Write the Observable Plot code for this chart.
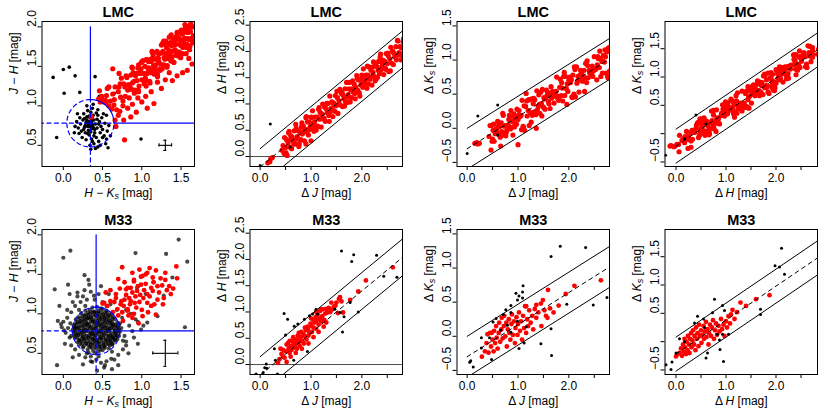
<!DOCTYPE html>
<html><head><meta charset="utf-8">
<script src="https://cdn.jsdelivr.net/npm/d3@7"></script>
<script src="https://cdn.jsdelivr.net/npm/@observablehq/plot@0.6"></script>
<style>
body{margin:0;background:#fff}
#chart{position:relative;width:830px;height:415px;background:#fff}
#chart svg{position:absolute}
</style>
</head><body><div id="chart"></div>
<script>
// ---------------- DATA ----------------
const titles = ["LMC", "M33"];

// LMC colour–colour diagram (H-Ks, J-H)
const lmcCcdRed = [
[0.45,1.09],[0.47,1.05],[0.49,1.12],[0.50,1.07],[0.52,1.05],[0.54,1.04],[0.55,1.13],[0.58,1.00],[0.58,1.24],[0.60,1.06],
[0.62,0.96],[0.63,1.15],[0.65,1.08],[0.66,1.24],[0.68,0.95],[0.70,1.18],[0.71,1.24],[0.73,1.11],[0.74,1.35],[0.76,1.06],
[0.77,1.28],[0.79,1.12],[0.80,1.38],[0.82,1.20],[0.83,1.27],[0.84,1.10],[0.86,1.39],[0.87,1.21],[0.88,1.48],[0.90,1.31],
[0.91,1.20],[0.92,1.38],[0.94,1.32],[0.95,1.48],[0.96,1.18],[0.98,1.41],[0.99,1.47],[1.00,1.33],[1.01,1.57],[1.03,1.28],
[1.04,1.50],[1.05,1.33],[1.06,1.59],[1.07,1.41],[1.09,1.48],[1.10,1.31],[1.11,1.59],[1.12,1.42],[1.13,1.69],[1.15,1.51],
[1.16,1.40],[1.17,1.59],[1.18,1.52],[1.19,1.68],[1.20,1.37],[1.21,1.60],[1.22,1.66],[1.24,1.53],[1.25,1.77],[1.26,1.47],
[1.27,1.69],[1.28,1.52],[1.29,1.78],[1.30,1.60],[1.31,1.66],[1.32,1.49],[1.33,1.77],[1.34,1.60],[1.35,1.87],[1.36,1.69],
[1.37,1.57],[1.38,1.76],[1.39,1.69],[1.40,1.85],[1.41,1.55],[1.42,1.77],[1.43,1.83],[1.44,1.69],[1.45,1.93],[1.46,1.64],
[1.47,1.86],[1.48,1.68],[1.49,1.94],[1.50,1.76],[1.51,1.83],[1.52,1.66],[1.53,1.94],[1.54,1.76],[1.55,2.03],[1.56,1.85],
[1.57,1.74],[1.58,1.93],[1.59,1.85],[1.60,2.01],[1.61,1.71],[1.62,1.94],[1.63,2.00],[1.64,1.86],[1.65,2.09],[1.66,1.80],
[0.85,1.24],[0.89,1.42],[0.93,1.19],[0.97,1.42],[1.02,1.57],[1.045,1.35],[1.08,1.47],[1.105,1.29],[1.14,1.61],[1.165,1.48],
[1.195,1.69],[1.23,1.47],[1.255,1.67],[1.285,1.61],[1.305,1.82],[1.325,1.51],[1.345,1.70],[1.365,1.80],[1.385,1.62],[1.405,1.78],
[1.425,1.71],[1.445,1.87],[1.465,1.63],[1.485,1.84],[1.505,1.96],[1.525,1.74],[1.545,1.85],[1.565,1.66],[1.585,1.97],[1.605,1.84],
[1.625,2.04],[1.645,1.81],[1.655,2.00],[1.215,1.56],[1.135,1.68],[0.955,1.20],[0.785,1.24],[0.725,1.28],[0.645,1.01],[0.535,1.07],
[0.81,1.36],[0.845,1.21],[0.875,1.49],[0.905,1.16],[0.935,1.41],[0.965,1.25],[0.995,1.55],[1.025,1.41],[1.055,1.25],[1.085,1.56],
[1.115,1.46],[1.145,1.65],[1.175,1.45],[1.205,1.61],[1.235,1.45],[1.265,1.79],[1.295,1.59],[1.315,1.74],[1.335,1.79],[1.355,1.63],
[1.375,1.90],[1.395,1.56],[1.415,1.80],[1.435,1.64],[1.455,1.92],[1.475,1.78],[1.495,1.61],[1.515,1.91],[1.535,1.81],[1.555,1.99],
[1.575,1.78],[1.595,1.93],[1.615,1.76],[1.635,2.09],[1.66,1.89],[1.52,1.91],[1.44,1.88],[1.36,1.64],[1.28,1.82],[1.20,1.40],
[1.12,1.56],[1.04,1.31],[0.96,1.52],[0.88,1.29],
[0.77,0.82],[0.86,0.86],[1.07,0.97],[1.155,1.03],[1.39,1.32],[1.64,1.53],[1.58,1.45],[0.78,0.57],[0.67,0.74],[0.72,0.93],
[0.82,0.97],[0.93,0.92],[1.00,1.05],[0.95,1.10],[1.12,1.18],[1.25,1.22],[1.30,1.33],[1.45,1.38],[1.52,1.42],[0.88,1.02],
[0.70,0.88],[0.66,0.82],[0.76,1.00],[1.05,1.12],[1.20,1.30],[1.35,1.42],[1.60,1.60],[0.63,1.47],[0.71,1.41],[0.46,1.19],
[0.56,1.22],[0.36,0.86]
];
const lmcCcdBlack = [
[0.35,0.78],[0.33,0.80],[0.37,0.76],[0.31,0.74],[0.39,0.82],[0.34,0.85],[0.36,0.71],[0.29,0.79],[0.41,0.77],[0.32,0.69],
[0.38,0.88],[0.30,0.86],[0.43,0.72],[0.27,0.73],[0.35,0.92],[0.40,0.66],[0.33,0.63],[0.46,0.80],[0.25,0.82],[0.37,0.97],
[0.44,0.88],[0.28,0.66],[0.42,0.60],[0.31,0.94],[0.48,0.74],[0.22,0.77],[0.36,0.58],[0.47,0.66],[0.26,0.90],[0.39,0.52],
[0.50,0.70],[0.45,0.55],[0.52,0.62],[0.34,0.50],[0.41,0.46],[0.29,0.57],[0.23,0.68],[0.49,0.85],[0.21,0.85],[0.38,1.02],
[0.30,1.00],[0.44,0.95],[0.53,0.78],[0.55,0.58],[0.47,0.50],[0.24,0.60],[0.19,0.72],[0.36,0.84],[0.34,0.74],[0.32,0.77],
[0.38,0.73],[0.36,0.80],[0.30,0.82],[0.40,0.70],[0.33,0.87],[0.39,0.62],[0.27,0.84],[0.43,0.83],[0.35,0.67],[0.31,0.65],
[0.45,0.77],[0.28,0.75],[0.37,0.55],[0.42,0.91],[0.26,0.70],[0.50,0.60],[0.54,0.52],[0.20,0.65],[0.35,0.45],[0.44,0.48],
[0.57,0.47],[0.51,0.90],[0.17,0.80],[0.15,0.74],[0.56,0.68],[0.58,0.75],[0.18,0.90],[0.55,0.88],[0.60,0.62],[0.14,0.66],
[-0.13,1.36],[0.00,1.46],[0.075,1.49],[0.15,1.38],[0.01,1.16],[0.21,1.17],[0.405,1.37],[0.65,1.16],[-0.085,0.60],[0.99,0.58],[0.46,1.12]
];

// M33 colour–colour diagram
const m33CcdRed = [
[0.75,1.59],[1.44,1.60],[0.70,1.44],[0.54,1.27],[0.52,1.14],[0.67,1.20],[0.82,1.33],[0.90,1.43],[0.99,1.47],[1.05,1.50],
[1.14,1.46],[1.20,1.35],[1.26,1.36],[1.16,1.12],[1.18,0.99],[1.01,0.97],[0.88,0.95],[0.76,0.91],[0.82,1.06],[1.07,1.14],
[0.63,1.02],[0.56,1.10],[1.01,1.48],[1.07,1.52],[0.67,1.25],[0.60,1.16],[0.50,1.13],[0.73,1.12],[0.84,1.20],[0.94,1.29],
[0.86,1.33],[0.80,1.31],[0.99,1.37],[0.90,1.41],[0.82,1.04],[0.96,0.88],[0.90,1.00],[0.75,1.02],[0.69,1.06],[1.07,1.25],
[0.78,1.18],[0.85,1.12],[0.92,1.22],[0.97,1.15],[1.02,1.20],[0.88,1.27],[0.95,1.35],[1.03,1.30],[1.10,1.22],[1.12,1.33],
[0.80,1.24],[0.74,1.16],[0.93,1.08],[1.00,1.05],[1.08,1.02],[0.86,1.16],[0.91,1.14],[0.98,1.24],[1.05,1.38],[1.15,1.40],
[1.22,1.27],[1.28,1.20],[1.32,1.30],[1.37,1.25],[1.30,1.43],[1.35,1.35],[1.24,1.45],[1.18,1.55],[1.10,1.58],[0.97,1.56],
[0.88,1.52],[0.78,1.40],[0.72,1.32],[0.65,1.15],[0.60,1.30],[0.77,1.10],[0.83,0.98],[0.70,0.98],[1.12,1.10],[1.20,1.18],
[1.27,1.12],[1.40,1.32],[1.45,1.45],[1.30,1.52],[1.14,1.29]
];
const m33CcdGrey = [
[0.32,0.51],[0.38,0.53],[0.45,0.52],[0.50,0.54],[0.41,0.50],
[0.25,0.57],[0.31,0.55],[0.36,0.57],[0.42,0.56],[0.47,0.55],[0.53,0.57],[0.58,0.56],
[0.21,0.61],[0.26,0.59],[0.32,0.60],[0.37,0.62],[0.43,0.60],[0.48,0.59],[0.54,0.61],[0.59,0.60],[0.63,0.62],
[0.18,0.64],[0.23,0.65],[0.29,0.63],[0.34,0.64],[0.40,0.66],[0.45,0.64],[0.51,0.63],[0.56,0.65],[0.61,0.64],[0.66,0.66],
[0.15,0.69],[0.21,0.67],[0.26,0.68],[0.32,0.70],[0.37,0.68],[0.43,0.67],[0.48,0.69],[0.54,0.68],[0.59,0.67],[0.64,0.69],[0.69,0.68],
[0.14,0.72],[0.19,0.73],[0.25,0.71],[0.30,0.72],[0.36,0.74],[0.41,0.72],[0.47,0.71],[0.52,0.73],[0.58,0.72],[0.63,0.71],[0.68,0.73],[0.71,0.72],
[0.13,0.77],[0.18,0.75],[0.24,0.76],[0.29,0.78],[0.35,0.76],[0.40,0.75],[0.46,0.77],[0.51,0.76],[0.57,0.78],[0.62,0.75],[0.67,0.76],[0.72,0.77],
[0.12,0.80],[0.17,0.81],[0.23,0.79],[0.28,0.80],[0.34,0.82],[0.39,0.80],[0.45,0.79],[0.50,0.81],[0.56,0.80],[0.61,0.82],[0.66,0.79],[0.71,0.80],
[0.13,0.85],[0.19,0.83],[0.24,0.84],[0.30,0.86],[0.35,0.84],[0.41,0.83],[0.46,0.85],[0.52,0.84],[0.57,0.83],[0.63,0.85],[0.68,0.84],[0.71,0.86],
[0.15,0.88],[0.20,0.89],[0.26,0.87],[0.31,0.88],[0.37,0.90],[0.42,0.88],[0.48,0.87],[0.53,0.89],[0.59,0.88],[0.64,0.87],[0.69,0.89],
[0.16,0.93],[0.22,0.91],[0.27,0.92],[0.33,0.94],[0.38,0.92],[0.44,0.91],[0.49,0.93],[0.55,0.92],[0.60,0.91],[0.66,0.93],
[0.19,0.96],[0.24,0.97],[0.30,0.95],[0.35,0.96],[0.41,0.98],[0.46,0.96],[0.52,0.95],[0.57,0.97],[0.63,0.96],
[0.23,1.01],[0.29,0.99],[0.34,1.00],[0.40,1.02],[0.45,1.00],[0.51,0.99],[0.56,1.01],[0.61,1.00],
[0.28,1.04],[0.34,1.05],[0.39,1.03],[0.45,1.04],[0.50,1.06],[0.55,1.04],
[0.37,1.08],[0.43,1.09],[0.48,1.07],
[0.34,0.58],[0.40,0.58],[0.46,0.58],[0.52,0.58],
[0.24,0.62],[0.29,0.62],[0.35,0.61],[0.40,0.62],[0.46,0.62],[0.51,0.61],[0.57,0.62],[0.62,0.61],
[0.20,0.66],[0.27,0.66],[0.32,0.66],[0.38,0.67],[0.43,0.65],[0.49,0.66],[0.54,0.66],[0.60,0.66],[0.65,0.67],
[0.18,0.70],[0.24,0.70],[0.29,0.69],[0.35,0.70],[0.40,0.70],[0.46,0.69],[0.51,0.70],[0.57,0.70],[0.62,0.70],[0.67,0.70],
[0.16,0.74],[0.22,0.74],[0.27,0.74],[0.33,0.73],[0.38,0.74],[0.44,0.74],[0.49,0.74],[0.55,0.74],[0.60,0.73],[0.66,0.74],
[0.15,0.78],[0.21,0.78],[0.26,0.78],[0.32,0.78],[0.37,0.78],[0.43,0.77],[0.48,0.78],[0.54,0.78],[0.59,0.78],[0.65,0.78],[0.70,0.78],
[0.15,0.82],[0.20,0.82],[0.26,0.82],[0.31,0.82],[0.37,0.81],[0.42,0.82],[0.48,0.82],[0.53,0.82],[0.59,0.81],[0.64,0.82],[0.69,0.82],
[0.17,0.86],[0.22,0.86],[0.28,0.86],[0.33,0.86],[0.39,0.86],[0.44,0.86],[0.50,0.86],[0.55,0.86],[0.61,0.86],[0.66,0.86],
[0.18,0.90],[0.24,0.90],[0.29,0.90],[0.35,0.90],[0.40,0.90],[0.46,0.90],[0.51,0.90],[0.57,0.90],[0.62,0.90],
[0.21,0.94],[0.26,0.94],[0.31,0.94],[0.36,0.94],[0.42,0.94],[0.47,0.94],[0.53,0.94],[0.58,0.94],[0.63,0.94],
[0.27,0.98],[0.32,0.98],[0.38,0.98],[0.43,0.98],[0.49,0.98],[0.54,0.98],[0.59,0.98],
[0.32,1.02],[0.37,1.02],[0.43,1.02],[0.48,1.02],[0.53,1.02],
[0.09,1.80],[0.00,1.71],[0.92,1.77],[1.47,1.94],[1.58,1.66],[1.31,1.76],[1.39,1.46],[1.28,1.23],[1.55,0.83],[-0.11,1.31],
[-0.05,1.10],[0.06,1.37],[0.27,1.49],[0.32,1.43],[0.18,1.27],[0.08,1.25],[-0.08,0.35],[0.25,0.36],[0.37,0.39],[0.43,0.28],
[0.52,0.32],[0.61,0.43],[0.80,0.60],[0.92,0.93],[0.99,0.80],[1.07,0.89],[1.20,0.97],[0.94,1.33],[1.05,1.25],[0.48,1.35],
[0.39,1.23],[0.33,1.37],[0.14,0.83],[-0.03,0.87],[0.01,0.79],[-0.07,0.91],
[0.05,0.95],[0.08,0.70],[0.02,0.62],[0.10,1.02],[0.15,1.10],[0.22,1.15],[0.30,1.18],[0.25,1.22],[0.20,1.05],[0.60,1.12],
[0.68,1.05],[0.75,0.95],[0.78,0.72],[0.80,0.65],[0.76,0.55],[0.70,0.48],[0.65,0.42],[0.55,0.40],[0.48,0.38],[0.42,0.42],
[0.35,0.40],[0.28,0.45],[0.20,0.48],[0.15,0.55],[0.10,0.60],[0.06,0.82],[0.03,0.76],[0.84,0.85],[0.88,0.78],[0.72,0.88],
[0.62,0.30],[0.53,0.35],[0.12,0.45],[0.00,0.90],[-0.02,0.83],[0.90,0.70],[0.95,0.62],[0.83,0.50],[0.50,1.15],[0.40,1.18],
[0.45,1.25],[0.35,1.28],[0.27,1.30],[0.18,1.22],[0.58,1.25],[0.12,1.15],[0.05,1.05],[0.95,0.90],[1.02,0.85],[0.86,1.00],
[0.80,1.05],[0.70,0.35],[0.10,0.72],[0.09,0.88],[0.74,0.82],[0.76,0.66],[0.35,0.46],[0.45,0.46],[0.28,1.10],[0.55,1.10],
[0.30,0.50],[0.62,0.52]
];

// LMC variability amplitudes of the selected stars (ΔJ, ΔH, ΔKs)
const lmcDJ = [
0.45,0.47,0.48,0.50,0.52,0.53,0.55,0.57,0.58,0.60,0.62,0.63,0.65,0.67,0.68,0.70,0.72,0.73,0.75,0.77,
0.78,0.80,0.82,0.83,0.85,0.87,0.88,0.90,0.92,0.93,0.95,0.97,0.98,1.00,1.02,1.03,1.05,1.07,1.08,1.10,
1.12,1.13,1.15,1.17,1.18,1.20,1.22,1.23,1.25,1.27,1.28,1.30,1.32,1.33,1.35,1.37,1.38,1.40,1.42,1.43,
1.45,1.47,1.48,1.50,1.52,1.53,1.55,1.57,1.58,1.60,1.62,1.63,1.65,1.67,1.68,1.70,1.72,1.73,1.75,1.77,
1.78,1.80,1.82,1.83,1.85,1.87,1.88,1.90,1.92,1.93,1.95,1.97,1.98,2.00,2.02,2.03,2.05,2.07,2.08,2.10,
2.12,2.13,2.15,2.17,2.18,2.20,2.22,2.23,2.25,2.27,2.28,2.30,2.32,2.33,2.35,2.37,2.38,2.40,2.42,2.43,
2.45,2.47,2.48,2.50,2.52,2.53,2.55,2.57,2.58,2.60,2.62,2.63,2.65,2.67,2.68,2.70,2.72,2.73,2.75,2.77,
2.78,2.80,2.82,2.84,2.86,2.88,2.90,2.92,2.94,2.96,2.98,3.00,3.02,3.04,3.06,3.08,3.10,3.12,3.14,3.16,
3.18,3.20,3.22,3.24,3.26,3.28,3.30,3.32,3.34,3.36,3.38,3.40,3.42,3.44,3.46,3.48,3.50,3.52,3.55,3.58,
3.61,3.64,3.67,3.70,0.19,0.21,0.43,0.49,0.15,0.24,0.90,1.00,
0.51,0.56,0.61,0.66,0.71,0.76,0.81,0.86,0.91,0.96,1.01,1.06,1.11,1.16,1.21,1.26,1.31,1.36,1.41,1.46,
1.51,1.56,1.61,1.66,1.71,1.76,1.81,1.86,1.91,1.96,2.01,2.06,2.11,2.16,2.21,2.26,2.31,2.36,2.41,2.46,
2.51,2.56,2.61,2.66,2.71,2.76,2.81,2.86,2.91,2.96,3.01,3.06,3.11,3.16,3.21,3.26,3.31,3.36,3.41,3.46,
3.51,3.56,3.61,3.66
];
const lmcDH = [
0.21,0.06,0.36,0.17,0.32,0.02,0.26,0.48,0.18,0.40,0.15,0.37,0.30,0.49,0.24,0.61,0.33,0.38,0.49,0.24,
0.47,0.32,0.64,0.43,0.58,0.30,0.52,0.74,0.46,0.66,0.41,0.65,0.56,0.75,0.52,0.87,0.59,0.66,0.75,0.50,
0.75,0.58,0.90,0.71,0.84,0.56,0.80,1.00,0.72,0.94,0.67,0.91,0.84,1.01,0.78,1.15,0.85,0.92,1.03,0.76,
1.01,0.86,1.16,0.97,1.12,0.82,1.06,1.28,0.98,1.20,0.95,1.17,1.10,1.29,1.04,1.41,1.13,1.18,1.29,1.04,
1.27,1.12,1.44,1.23,1.38,1.10,1.32,1.54,1.26,1.46,1.21,1.45,1.36,1.55,1.32,1.67,1.39,1.46,1.55,1.30,
1.55,1.38,1.70,1.51,1.64,1.36,1.60,1.80,1.52,1.74,1.47,1.71,1.64,1.81,1.58,1.95,1.65,1.72,1.83,1.56,
1.81,1.66,1.96,1.77,1.92,1.62,1.86,2.08,1.78,2.00,1.75,1.97,1.90,2.09,1.84,2.21,1.93,1.98,2.09,1.84,
2.07,1.92,2.24,2.04,2.19,1.90,2.14,2.36,2.07,2.29,2.03,2.27,2.20,2.38,2.15,2.51,2.23,2.30,2.40,2.15,
2.39,2.24,2.56,2.36,2.51,2.22,2.46,2.68,2.39,2.61,2.35,2.59,2.52,2.70,2.47,2.83,2.55,2.62,2.73,2.48,
2.74,2.59,2.92,2.73,-0.10,-0.04,0.12,0.05,-0.12,-0.02,0.24,0.30,
0.07,0.45,0.33,0.24,0.53,0.19,0.56,0.48,0.76,0.51,0.74,0.48,0.55,0.93,0.81,0.72,1.01,0.67,1.04,0.96,
1.24,0.99,1.22,0.96,1.03,1.41,1.29,1.20,1.49,1.15,1.52,1.44,1.72,1.47,1.70,1.44,1.51,1.89,1.77,1.68,
1.97,1.63,2.00,1.92,2.20,1.95,2.18,1.92,1.99,2.37,2.25,2.16,2.45,2.11,2.48,2.40,2.68,2.43,2.66,2.40,
2.47,2.85,2.73,2.64
];
const lmcDK = [
0.04,-0.32,0.04,-0.16,0.06,-0.19,-0.08,-0.01,-0.05,0.10,-0.09,0.02,-0.13,0.08,-0.05,0.22,-0.10,0.03,0.04,-0.06,
-0.03,0.04,0.13,0.19,-0.01,0.01,0.11,0.18,0.21,0.02,0.15,0.06,0.28,0.13,0.26,0.17,0.18,-0.02,0.41,0.03,
0.33,-0.03,0.32,0.40,0.18,0.26,0.04,0.42,0.23,0.43,0.19,0.36,0.24,0.42,0.20,0.55,0.27,0.32,0.35,0.22,
0.53,0.18,0.57,0.31,0.43,0.28,0.45,0.48,0.53,0.39,0.49,0.29,0.61,0.51,0.54,0.48,0.47,0.52,0.54,0.47,
0.44,0.41,0.60,0.72,0.48,0.59,0.40,0.76,0.48,0.76,0.58,0.65,0.54,0.70,0.75,0.67,0.71,0.45,0.78,0.50,
0.86,0.46,0.90,0.69,0.76,0.53,0.78,0.85,0.82,0.69,0.76,0.85,0.74,0.95,0.67,0.92,0.74,0.85,0.84,0.80,
0.82,0.76,0.84,1.05,0.86,0.87,0.71,1.05,1.02,0.89,1.02,0.76,0.98,0.98,1.07,0.97,1.05,0.81,1.12,0.74,
1.18,0.84,1.19,0.98,1.05,1.08,0.91,1.31,0.95,1.14,1.06,1.19,1.05,1.30,1.06,1.28,1.01,1.21,1.24,1.12,
1.14,1.06,1.43,1.22,1.34,1.03,1.19,1.37,1.39,1.23,1.39,1.18,1.37,1.27,1.46,1.40,1.39,1.17,1.47,1.36,
1.39,1.36,1.40,1.52,-0.21,-0.23,-0.12,-0.19,-0.22,-0.22,-0.10,-0.24,
-0.03,-0.07,0.03,-0.26,0.19,-0.11,0.05,0.26,0.09,0.17,0.19,0.19,0.01,0.51,0.42,0.09,0.44,0.00,0.49,0.36,
0.45,0.56,0.36,0.44,0.37,0.75,0.45,0.67,0.82,0.35,0.74,0.46,0.90,0.66,0.73,0.83,0.54,0.99,0.81,0.91,
0.86,0.93,1.13,0.81,1.15,0.77,1.18,0.93,0.90,1.39,0.98,1.16,1.22,1.17,1.17,1.39,1.54,1.12,1.43,1.04,
1.35,1.49,1.35,1.55
];
const lmcBlackJH = [[0.20,0.62],[0.59,0.18],[0.00,-0.17]];
const lmcBlackJK = [[0.00,-0.37],[0.21,0.18],[0.60,0.34],[0.60,-0.10]];
const lmcBlackHK = [[-0.21,-0.38],[0.40,0.33],[0.60,0.17],[0.17,-0.09]];

// M33 amplitude diagrams
const m33RedJH = [
[0.35,0.03],[0.38,0.10],[0.42,0.20],[0.45,0.15],[0.48,0.13],[0.50,0.25],[0.52,0.05],[0.55,0.41],[0.56,0.30],[0.58,0.22],
[0.60,0.35],[0.62,0.28],[0.63,0.45],[0.65,0.38],[0.66,0.32],[0.68,0.35],[0.70,0.42],[0.71,0.48],[0.72,0.30],[0.74,0.55],
[0.75,0.40],[0.77,0.46],[0.78,0.35],[0.80,0.52],[0.81,0.62],[0.83,0.44],[0.85,0.58],[0.86,0.40],[0.88,0.54],[0.90,0.65],
[0.91,0.48],[0.93,0.72],[0.94,0.67],[0.95,0.55],[0.97,0.60],[0.99,0.78],[1.01,0.73],[1.02,0.62],[1.04,0.85],[1.05,0.70],
[1.07,0.80],[1.09,0.90],[1.10,0.68],[1.11,0.83],[1.13,0.95],[1.15,0.76],[1.17,0.88],[1.18,1.02],[1.20,0.82],[1.22,0.92],
[1.24,1.05],[1.26,0.85],[1.28,0.97],[1.30,1.06],[1.32,0.99],[1.35,1.08],[1.38,1.00],[1.42,1.05],[1.45,1.10],[1.48,1.12],
[1.50,1.18],[1.53,0.98],[1.57,1.28],[1.60,1.20],[1.63,0.99],[1.77,1.23],[1.93,1.39],[2.08,1.60],[2.61,1.85],
[0.45,0.28],[0.52,0.38],[0.60,0.15],[0.65,0.52],[0.70,0.22],[0.76,0.60],[0.82,0.30],[0.88,0.70],[0.95,0.40],[1.00,0.88],
[1.05,0.52],[1.10,1.00],[1.15,0.62],[1.20,1.05],[1.25,0.72],[1.30,0.80],[1.40,1.18],[1.55,1.25],[0.58,0.45],[0.40,0.30]
];
const m33BlackJH = [
[1.60,2.16],[1.80,1.96],[1.84,2.09],[2.29,2.08],[2.43,1.68],[2.69,1.66],[1.93,1.00],[1.62,0.62],[1.77,1.18],[1.65,0.91],
[0.47,0.97],[0.54,0.86],[0.50,0.56],[0.67,0.73],[0.74,0.77],[0.87,0.86],[1.03,0.96],[1.10,1.05],[1.13,0.96],[0.97,0.93],
[0.93,0.25],[0.66,0.08],[0.30,0.08],[0.28,0.30],[0.12,0.01],[0.13,-0.07],[0.09,-0.06],[-0.08,-0.18],[0.06,-0.15],[0.34,-0.18],
[1.47,1.05],[1.57,0.99]
];
const m33RedJK = [
[0.29,-0.30],[0.35,-0.22],[0.38,-0.10],[0.40,0.03],[0.42,-0.24],[0.45,0.05],[0.47,-0.15],[0.48,0.05],[0.50,-0.05],[0.52,-0.22],
[0.53,0.08],[0.55,-0.10],[0.57,0.15],[0.58,-0.02],[0.60,-0.18],[0.62,0.05],[0.63,0.20],[0.65,-0.08],[0.67,0.10],[0.68,0.27],
[0.70,-0.03],[0.72,0.15],[0.73,0.30],[0.75,0.00],[0.77,0.20],[0.78,-0.15],[0.80,0.10],[0.82,0.25],[0.83,0.05],[0.85,-0.05],
[0.87,0.18],[0.88,0.32],[0.90,0.02],[0.92,0.22],[0.94,-0.10],[0.95,0.12],[0.97,0.28],[0.99,0.02],[1.00,0.18],[1.02,0.35],
[1.04,0.08],[1.06,0.22],[1.08,-0.05],[1.10,0.30],[1.12,0.12],[1.14,0.44],[1.16,0.05],[1.16,0.44],[1.18,0.25],[1.20,0.15],
[1.22,0.38],[1.25,0.20],[1.28,0.30],[1.30,0.10],[1.33,0.40],[1.36,0.27],[1.36,0.46],[1.40,0.35],[1.45,0.48],[1.46,0.15],
[1.49,0.53],[1.52,0.38],[1.55,0.30],[1.58,0.27],[1.59,0.68],[1.63,0.41],[1.70,0.35],[1.80,0.45],[1.94,0.62],[2.11,0.74],
[2.63,0.82]
];
const m33BlackJK = [
[1.83,1.32],[2.33,1.30],[1.65,1.17],[2.75,0.57],[2.48,0.46],[1.96,0.47],[1.66,-0.28],[1.45,-0.11],[1.65,0.11],[1.02,-0.18],
[1.12,-0.10],[1.16,0.14],[0.96,0.63],[1.02,0.59],[0.99,0.53],[1.10,0.74],[1.09,0.65],[1.09,0.56],[0.86,0.45],[0.76,0.39],
[0.71,0.32],[0.86,0.35],[0.57,0.26],[0.51,0.21],[0.79,0.16],[0.66,0.09],[0.99,0.22],[0.44,-0.02],[0.28,-0.02],[0.28,-0.17],
[0.48,-0.34],[0.07,-0.36],[0.05,-0.38],[0.12,-0.45],[0.86,0.06]
];
const m33RedHK = [
[0.00,-0.26],[0.03,-0.22],[0.07,-0.20],[0.10,-0.12],[0.12,-0.25],[0.14,-0.05],[0.15,-0.18],[0.17,0.05],[0.18,-0.10],[0.20,-0.22],
[0.21,0.00],[0.23,-0.15],[0.24,0.10],[0.26,-0.05],[0.27,-0.20],[0.28,0.05],[0.30,0.15],[0.31,-0.10],[0.33,0.02],[0.34,0.20],
[0.36,-0.05],[0.37,0.10],[0.39,-0.15],[0.40,0.25],[0.42,0.05],[0.43,0.15],[0.45,-0.08],[0.46,0.30],[0.48,0.10],[0.50,0.20],
[0.51,-0.02],[0.53,0.12],[0.55,0.28],[0.56,0.05],[0.58,0.18],[0.60,0.35],[0.61,0.08],[0.63,0.22],[0.65,-0.05],[0.66,0.15],
[0.68,0.30],[0.70,0.10],[0.72,0.25],[0.74,0.38],[0.76,0.05],[0.78,0.20],[0.80,0.32],[0.82,0.12],[0.85,0.28],[0.87,0.18],
[0.90,0.40],[0.92,0.22],[0.95,0.30],[0.97,0.10],[1.00,0.36],[1.02,0.25],[1.05,0.45],[1.08,0.32],[1.10,0.48],[1.13,0.56],
[1.17,0.40],[1.22,0.52],[1.29,0.69],[1.40,0.63],[1.60,0.75],[1.87,0.82]
];
const m33BlackHK = [
[2.11,1.65],[1.98,1.34],[2.07,1.32],[2.17,1.19],[1.69,0.57],[1.69,0.48],[0.77,0.75],[0.93,0.64],[0.97,0.55],[0.73,0.51],
[0.43,0.45],[0.55,0.40],[0.37,0.33],[0.57,0.25],[0.83,0.13],[0.93,0.13],[1.05,0.13],[0.88,-0.14],[0.95,-0.35],[0.63,-0.20],
[0.60,-0.29],[0.07,0.05],[0.17,0.00],[0.00,-0.20],[-0.08,-0.36],[-0.20,-0.41],[-0.10,-0.49],[0.87,0.03]
];

// Selection geometry in the colour–colour diagrams (LMC, M33)
const ccdCenterX = [0.345, 0.418];
const ccdCenterY = [0.780, 0.785];
const ccdRadius = [0.30, 0.30];
// typical error bars (LMC, M33)
const errX = [1.30, 1.30];
const errY = [0.50, 0.50];
const errDX = [0.08, 0.16];
const errDY = [0.065, 0.165];

// amplitude-ratio fits: ΔH vs ΔJ, ΔKs vs ΔJ, ΔKs vs ΔH
const fitSlopes = [0.80, 0.47, 0.60];
const fitIntercepts = [-0.20, -0.30, -0.22];
const fitHalfWidths = [0.35, 0.30, 0.30];

// ---------------- DRAWING ----------------
const RED = "#ff0000", BLUE = "#0000ff";
const chart = document.getElementById("chart");
const COL_W = 207.5, ROW_H = 207.5;

const richLabels = {
  "J − H [mag]": [["J","i"],[" − ",""],["H","i"],[" [mag]",""]],
  "H − Ks [mag]": [["H","i"],[" − ",""],["K","i"],["s","is"],[" [mag]",""]],
  "Δ J [mag]": [["Δ ",""],["J","i"],[" [mag]",""]],
  "Δ H [mag]": [["Δ ",""],["H","i"],[" [mag]",""]],
  "Δ Ks [mag]": [["Δ ",""],["K","i"],["s","is"],[" [mag]",""]]
};
function richify(svg) {
  d3.select(svg).selectAll("text").each(function () {
    const segs = richLabels[this.textContent];
    if (!segs) return;
    const t = d3.select(this);
    t.text(null);
    let shifted = false;
    for (const [s, st] of segs) {
      const ts = t.append("tspan").text(s);
      if (st.includes("i")) ts.attr("font-style", "italic");
      if (st.includes("s")) { ts.attr("font-size", "9px").attr("dy", 2.5); shifted = true; }
      else if (shifted) { ts.attr("dy", -2.5); shifted = false; }
    }
  });
}
const fmt = d => (d < 0 ? "−" + Math.abs(d).toFixed(1) : d.toFixed(1));

function panel(col, row, cfg) {
  const svg = Plot.plot({
    width: 207, height: 207,
    marginLeft: 41.5, marginRight: 13, marginTop: 21, marginBottom: 41,
    x: {domain: cfg.xDomain},
    y: {domain: cfg.yDomain},
    style: {fontFamily: "'Liberation Sans', Arial, Helvetica, sans-serif", fontSize: "12px", color: "black", background: "white", overflow: "visible"},
    marks: [
      ...cfg.marks,
      Plot.frame({stroke: "black", strokeWidth: 1}),
      Plot.axisX(cfg.xTicks, {tickSize: 4, tickPadding: 2.5, fontSize: 12, label: null,
        tickFormat: d => (cfg.xLabeled.includes(d) ? fmt(d) : "")}),
      Plot.axisY(cfg.yTicks, {tickSize: 4, label: null, tickFormat: () => ""}),
      Plot.text(cfg.yLabeled, {y: d => d, text: fmt, frameAnchor: "left", dx: -6.5, rotate: -90, lineAnchor: "bottom", fontSize: 12}),
      Plot.text([cfg.xLab], {text: d => d, frameAnchor: "bottom", dy: 26.5, lineAnchor: "middle", fontSize: 12}),
      Plot.text([cfg.yLab], {text: d => d, frameAnchor: "left", dx: -28, rotate: -90, lineAnchor: "middle", fontSize: 12}),
      Plot.text([cfg.title], {text: d => d, frameAnchor: "top", dy: -9, lineAnchor: "middle", fontSize: 14.5, fontWeight: "bold"})
    ]
  });
  svg.style.left = (col * COL_W) + "px";
  svg.style.top = (row * ROW_H) + "px";
  richify(svg);
  chart.appendChild(svg);
}

function ccdGeometry(k) {
  const cx = ccdCenterX[k], cy = ccdCenterY[k], r = ccdRadius[k];
  const arc = (a0, a1) => d3.range(a0, a1 + 0.01, 2).map(a => ({x: cx + r * Math.cos(a * Math.PI / 180), y: cy + r * Math.sin(a * Math.PI / 180)}));
  const dash = {stroke: BLUE, strokeWidth: 1.2, strokeDasharray: "4,3.5", clip: true};
  const solid = {stroke: BLUE, strokeWidth: 1.2, clip: true};
  return [
    Plot.line(arc(90, 360), {x: "x", y: "y", ...dash}),
    Plot.line([{x: -0.4, y: cy}, {x: cx + r, y: cy}], {x: "x", y: "y", ...dash}),
    Plot.line([{x: cx, y: 0.1}, {x: cx, y: cy + r}], {x: "x", y: "y", ...dash}),
    Plot.line(arc(0, 90), {x: "x", y: "y", ...solid}),
    Plot.line([{x: cx, y: cy + r}, {x: cx, y: 2.0}], {x: "x", y: "y", ...solid}),
    Plot.line([{x: cx + r, y: cy}, {x: 1.8, y: cy}], {x: "x", y: "y", ...solid})
  ];
}
function errorCross(k) {
  const e = [{x: errX[k], y: errY[k], dx: errDX[k], dy: errDY[k]}];
  const cap = 0.02, o = {stroke: "black", strokeWidth: 1.1};
  return [
    Plot.ruleY(e, {y: "y", x1: d => d.x - d.dx, x2: d => d.x + d.dx, ...o}),
    Plot.ruleX(e, {x: "x", y1: d => d.y - d.dy, y2: d => d.y + d.dy, ...o}),
    Plot.ruleX(e, {x: d => d.x - d.dx, y1: d => d.y - cap, y2: d => d.y + cap, ...o}),
    Plot.ruleX(e, {x: d => d.x + d.dx, y1: d => d.y - cap, y2: d => d.y + cap, ...o}),
    Plot.ruleY(e, {y: d => d.y - d.dy, x1: d => d.x - cap, x2: d => d.x + cap, ...o}),
    Plot.ruleY(e, {y: d => d.y + d.dy, x1: d => d.x - cap, x2: d => d.x + cap, ...o})
  ];
}
function fitLines(k) {
  const ends = [0, 3.2];
  return [-1, 0, 1].map(s => Plot.line(
    ends.map(x => ({x, y: fitSlopes[k] * x + fitIntercepts[k] + s * fitHalfWidths[k]})),
    {x: "x", y: "y", stroke: "black", strokeWidth: 1, strokeDasharray: s === 0 ? "4,4" : undefined, clip: true}));
}
const px = d => d[0], py = d => d[1];
const redDot = (data, r = 2.4) => Plot.dot(data, {x: px, y: py, r, fill: RED, clip: true});
const blackDot = (data, r) => Plot.dot(data, {x: px, y: py, r, fill: "black", clip: true});

const ccdX = [-0.272, 1.672], ccdY = [0.232, 2.068];
const jX = [-0.2, 2.8], hX = [-0.22, 2.83];
const dhY = [-0.19, 2.57], dkJY = [-0.56, 1.565], dkHY = [-0.58, 1.98];
const t05 = [0, 0.5, 1.0, 1.5, 2.0, 2.5];
const t012 = [0, 1.0, 2.0];
const tK = [-0.5, 0, 0.5, 1.0, 1.5];

// ---- LMC row ----
panel(0, 0, {title: titles[0], xDomain: ccdX, yDomain: ccdY,
  xTicks: [0, 0.5, 1.0, 1.5], xLabeled: [0, 0.5, 1.0, 1.5], yTicks: [0.5, 1.0, 1.5, 2.0], yLabeled: [0.5, 1.0, 1.5, 2.0],
  xLab: "H − Ks [mag]", yLab: "J − H [mag]",
  marks: [blackDot(lmcCcdBlack, 1.8), redDot(lmcCcdRed, 2.6), ...ccdGeometry(0), ...errorCross(0)]});
panel(1, 0, {title: titles[0], xDomain: jX, yDomain: dhY,
  xTicks: t05, xLabeled: t012, yTicks: t05, yLabeled: t05,
  xLab: "Δ J [mag]", yLab: "Δ H [mag]",
  marks: [Plot.ruleY([0], {stroke: "black", strokeWidth: 0.7}),
    Plot.dot(lmcDJ, {x: lmcDJ, y: lmcDH, r: 2.6, fill: RED, clip: true}),
    blackDot(lmcBlackJH, 1.5), ...fitLines(0)]});
panel(2, 0, {title: titles[0], xDomain: jX, yDomain: dkJY,
  xTicks: t05, xLabeled: t012, yTicks: tK, yLabeled: tK,
  xLab: "Δ J [mag]", yLab: "Δ Ks [mag]",
  marks: [Plot.dot(lmcDJ, {x: lmcDJ, y: lmcDK, r: 2.6, fill: RED, clip: true}),
    blackDot(lmcBlackJK, 1.5), ...fitLines(1)]});
panel(3, 0, {title: titles[0], xDomain: hX, yDomain: dkHY,
  xTicks: t05, xLabeled: t012, yTicks: tK, yLabeled: [-0.5, 0.5, 1.0, 1.5],
  xLab: "Δ H [mag]", yLab: "Δ Ks [mag]",
  marks: [Plot.dot(lmcDH, {x: lmcDH, y: lmcDK, r: 2.6, fill: RED, clip: true}),
    blackDot(lmcBlackHK, 1.5), ...fitLines(2)]});

// ---- M33 row ----
panel(0, 1, {title: titles[1], xDomain: ccdX, yDomain: ccdY,
  xTicks: [0, 0.5, 1.0, 1.5], xLabeled: [0, 0.5, 1.0, 1.5], yTicks: [0.5, 1.0, 1.5, 2.0], yLabeled: [0.5, 1.0, 1.5, 2.0],
  xLab: "H − Ks [mag]", yLab: "J − H [mag]",
  marks: [Plot.dot(m33CcdGrey, {x: px, y: py, r: 2.1, fill: "black", fillOpacity: 0.72, clip: true}),
    redDot(m33CcdRed), ...ccdGeometry(1), ...errorCross(1)]});
panel(1, 1, {title: titles[1], xDomain: jX, yDomain: dhY,
  xTicks: t05, xLabeled: t012, yTicks: t05, yLabeled: t05,
  xLab: "Δ J [mag]", yLab: "Δ H [mag]",
  marks: [Plot.ruleY([0], {stroke: "black", strokeWidth: 0.7}), redDot(m33RedJH), blackDot(m33BlackJH, 1.5), ...fitLines(0)]});
panel(2, 1, {title: titles[1], xDomain: jX, yDomain: dkJY,
  xTicks: t05, xLabeled: t012, yTicks: tK, yLabeled: tK,
  xLab: "Δ J [mag]", yLab: "Δ Ks [mag]",
  marks: [redDot(m33RedJK), blackDot(m33BlackJK, 1.5), ...fitLines(1)]});
panel(3, 1, {title: titles[1], xDomain: hX, yDomain: dkHY,
  xTicks: t05, xLabeled: t012, yTicks: tK, yLabeled: [-0.5, 0.5, 1.0, 1.5],
  xLab: "Δ H [mag]", yLab: "Δ Ks [mag]",
  marks: [redDot(m33RedHK), blackDot(m33BlackHK, 1.5), ...fitLines(2)]});
</script>
</body></html>
